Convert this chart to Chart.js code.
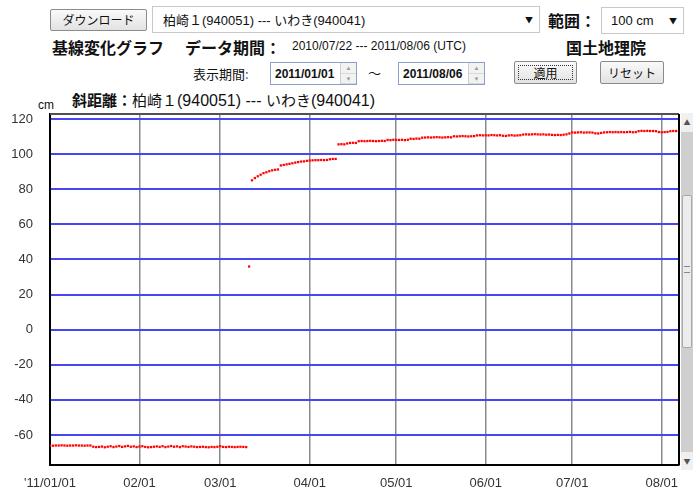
<!DOCTYPE html>
<html>
<head>
<meta charset="utf-8">
<script src="https://cdn.jsdelivr.net/npm/chart.js@4.4.0/dist/chart.umd.min.js"></script>
<style>
  body { margin: 0; width: 693px; height: 488px; overflow: hidden; background: #fff; position: relative;
         font-family: "Noto Sans CJK JP", "Liberation Sans", sans-serif; color: #111; }
  .abs { position: absolute; white-space: nowrap; }
  .btn { position: absolute; box-sizing: border-box; border: 1px solid #8c8c8c; border-radius: 2px;
         background: linear-gradient(#fafafa, #e2e2e2); font-size: 12px; text-align: center; color: #111; }
  .sel { position: absolute; box-sizing: border-box; border: 1px solid #c8c8c8; background: #fff; font-size: 13px; }
  .num { font-family: "Liberation Sans", sans-serif; }
  .inp { position: absolute; box-sizing: border-box; border: 1px solid #8aa2c8; background: #fff;
         font: bold 12px "Liberation Sans", sans-serif; }
  .spin { position: absolute; right: 0; top: 0; width: 15px; height: 100%; border-left: 1px solid #d0d0d0; background: #f2f2f2; }
  .spin div { height: 50%; box-sizing: border-box; border-bottom: 1px solid #d8d8d8; font-size: 6px; line-height: 10px; text-align: center; color: #999; }
  #wrap { position: absolute; left: 0; top: 100px; width: 693px; height: 388px; }
  #sb { position: absolute; left: 681px; top: 113px; width: 12px; height: 357px; background: #cfcfcf; }
</style>
</head>
<body>

<!-- 上部の操作パネル -->
<div class="btn" style="left:50px;top:9px;width:97px;height:22px;line-height:20px;">ダウンロード</div>
<div class="sel" style="left:152px;top:6px;width:388px;height:27px;">
  <span class="abs" style="left:10px;top:3px;">柏崎１<span class="num">(940051) --- </span>いわき<span class="num">(940041)</span></span>
  <span class="abs" style="right:6px;top:7px;font-size:8px;">▼</span>
</div>
<div class="abs" style="left:548px;top:8px;font-size:16px;font-weight:bold;">範囲：</div>
<div class="sel" style="left:601px;top:7px;width:83px;height:27px;">
  <span class="abs num" style="left:9px;top:5px;">100 cm</span>
  <span class="abs" style="right:6px;top:7px;font-size:8px;">▼</span>
</div>

<div class="abs" style="left:52px;top:35px;font-size:16px;font-weight:bold;">基線変化グラフ</div>
<div class="abs" style="left:185px;top:35px;font-size:16px;font-weight:bold;">データ期間：</div>
<div class="abs num" style="left:292px;top:39px;font-size:12px;">2010/07/22 --- 2011/08/06 (UTC)</div>
<div class="abs" style="left:566px;top:35px;font-size:16px;font-weight:bold;">国土地理院</div>

<div class="abs" style="left:193px;top:64px;font-size:13px;">表示期間<span style="color:#557">:</span></div>
<div class="inp" style="left:270px;top:62px;width:87px;height:23px;">
  <span class="abs" style="left:4px;top:4px;">2011/01/01</span>
  <div class="spin"><div>▲</div><div>▼</div></div>
</div>
<div class="abs" style="left:368px;top:63px;font-size:13px;">～</div>
<div class="inp" style="left:398px;top:62px;width:87px;height:23px;">
  <span class="abs" style="left:4px;top:4px;">2011/08/06</span>
  <div class="spin"><div>▲</div><div>▼</div></div>
</div>
<div class="btn" style="left:514px;top:61px;width:63px;height:23px;line-height:21px;">
  <div style="position:absolute;left:3px;top:3px;right:3px;bottom:3px;border:1px dotted #333;"></div>適用
</div>
<div class="btn" style="left:600px;top:61px;width:64px;height:23px;line-height:21px;">リセット</div>

<!-- グラフタイトル -->
<div class="abs" style="left:72px;top:89px;font-size:15px;"><b>斜距離：</b>柏崎１<span class="num" style="font-size:16px;">(940051) --- </span>いわき<span class="num" style="font-size:16px;">(940041)</span></div>
<div class="abs num" style="left:38px;top:98px;font-size:12px;">cm</div>

<div id="wrap"><canvas id="baseline-chart"></canvas></div>

<!-- 右端のスクロールバー -->
<div id="sb">
  <div style="position:absolute;left:0;top:0;width:12px;height:19px;background:#f0f0f0;font-size:7px;text-align:center;line-height:19px;color:#555;">▲</div>
  <div style="position:absolute;left:1px;top:82px;width:10px;height:153px;background:#ececec;border:1px solid #aaa;border-radius:2px;box-sizing:border-box;"></div>
  <div style="position:absolute;left:3px;top:153px;width:6px;height:7px;border-top:1px solid #888;border-bottom:1px solid #888;box-sizing:border-box;"></div>
  <div style="position:absolute;left:0;bottom:0;width:12px;height:18px;background:#f0f0f0;font-size:7px;text-align:center;line-height:18px;color:#555;">▼</div>
</div>

<script>
// 表示開始日 (x = 開始日からの経過日数)
const startDate = "2011-01-01";
const endDate = "2011-08-07";

// 月初めの目盛り
const xTickDates = ["2011-01-01", "2011-02-01", "2011-03-01", "2011-04-01", "2011-05-01", "2011-06-01", "2011-07-01", "2011-08-01"];
const xTickLabels = ["'11/01/01", "02/01", "03/01", "04/01", "05/01", "06/01", "07/01", "08/01"];

// 縦軸
const yTicks = [-60, -40, -20, 0, 20, 40, 60, 80, 100, 120];
const yMin = -77.1;
const yMax = 122.9;

// 斜距離の日毎の値 (cm)  01/01 〜 08/06
const distJan = [
  -66.0, -66.1, -66.0, -66.0, -65.9, -66.0, -66.1, -66.0, -66.0, -65.9, -66.0, -66.0, -66.1, -66.0, -66.0,
  -66.7, -66.9, -66.8, -66.6, -67.0, -66.7, -66.4, -66.9, -66.6, -66.3, -66.8, -66.5, -66.2, -66.7, -66.5, -66.9
];
const distFeb = [
  -66.6, -66.4, -66.8, -67.0, -66.9, -66.7, -66.5, -66.8, -66.4, -66.9, -66.6, -66.3, -66.7, -66.5,
  -66.9, -66.4, -66.6, -66.8, -66.5, -66.7, -66.9, -66.8, -66.7, -66.9, -67.0, -66.8, -66.9, -66.7
];
const distMar = [
  -66.4, -66.8, -66.9, -66.7, -66.8, -66.9, -66.8, -66.7, -66.8, -66.9,
  36.0,
  85.1, 86.4, 87.4, 88.3, 89.2, 89.7, 90.3, 90.8, 91.1, 91.3,
  93.6, 93.9, 94.2, 94.5, 94.8, 95.2, 95.5, 95.8, 95.9, 96.2
];
const distApr = [
  96.4, 96.5, 96.6, 96.6, 96.7, 96.6, 96.7, 97.1, 97.3, 97.3,
  105.6, 105.7, 105.6, 106.1, 106.4, 106.5, 106.4, 107.4, 107.5, 107.4,
  107.5, 107.6, 107.5, 107.4, 107.5, 107.6, 107.5, 108.1, 108.0, 108.2
];
const distMay = [
  108.1, 108.1, 108.2, 108.0, 108.2, 108.8, 108.7, 108.9, 108.8, 109.4,
  109.5, 109.6, 109.5, 109.6, 109.7, 109.6, 109.5, 109.6, 109.7, 109.6,
  110.2, 110.1, 110.2, 110.3, 110.2, 110.1, 110.2, 110.3, 110.7, 110.8, 110.7
];
const distJun = [
  110.8, 110.7, 110.9, 110.8, 110.7, 110.8, 110.5, 110.4, 110.7, 110.8,
  110.6, 110.7, 110.8, 111.2, 111.3, 111.2, 111.3, 111.4, 111.3, 111.2,
  111.3, 111.1, 111.2, 111.0, 110.9, 111.0, 110.9, 111.1, 111.3, 111.8
];
const distJul = [
  112.4, 112.3, 112.4, 112.5, 112.3, 112.4, 112.4, 112.3, 111.9, 111.8,
  112.1, 112.4, 112.5, 112.6, 112.5, 112.6, 112.5, 112.6, 112.5, 112.6,
  112.7, 112.5, 112.6, 113.1, 113.3, 113.2, 113.3, 113.2, 113.2, 113.1, 112.6
];
const distAug = [112.5, 112.6, 112.7, 113.1, 113.2, 113.2];

const dailyDist = [...distJan, ...distFeb, ...distMar, ...distApr, ...distMay, ...distJun, ...distJul, ...distAug];

function dayOffset(s) {
  return Math.round((Date.parse(s + "T00:00:00Z") - Date.parse(startDate + "T00:00:00Z")) / 86400000);
}

const points = dailyDist.map((v, i) => ({ x: i, y: v }));
const xTickValues = xTickDates.map(dayOffset);

// グラフ外枠 (上と右)
const framePlugin = {
  id: "frame",
  afterDraw(chart) {
    const { ctx, chartArea: a } = chart;
    ctx.save();
    ctx.lineWidth = 2;
    ctx.strokeStyle = "#505050";
    ctx.beginPath(); ctx.moveTo(a.left, a.top); ctx.lineTo(a.right, a.top); ctx.stroke();
    ctx.strokeStyle = "#000";
    ctx.beginPath(); ctx.moveTo(a.right, a.top); ctx.lineTo(a.right, a.bottom); ctx.stroke();
    ctx.restore();
  }
};

const canvas = document.getElementById("baseline-chart");
const chart = new Chart(canvas.getContext("2d"), {
  type: "scatter",
  data: {
    datasets: [{
      label: "斜距離",
      data: points,
      pointStyle: "rect",
      pointRadius: 1.6,
      pointBorderWidth: 0,
      backgroundColor: "#ff0000",
      borderColor: "#ff0000",
      showLine: false
    }]
  },
  options: {
    responsive: true,
    maintainAspectRatio: false,
    animation: false,
    layout: { padding: { top: 14, right: 14, left: 0, bottom: 0 } },
    plugins: { legend: { display: false }, tooltip: { enabled: false } },
    scales: {
      x: {
        type: "linear",
        min: 0,
        max: dayOffset(endDate),
        afterBuildTicks: (scale) => { scale.ticks = xTickValues.map(v => ({ value: v })); },
        afterFit: (scale) => { scale.height = 23; scale.paddingLeft = 0; scale.paddingRight = 0; },
        ticks: {
          autoSkip: false,
          maxRotation: 0,
          padding: 11,
          color: "#333",
          font: { family: "Liberation Sans", size: 13 },
          callback: (value, index) => xTickLabels[index]
        },
        grid: { color: "#8a8a8a", lineWidth: 1.5, drawTicks: false },
        border: { color: "#000", width: 2 }
      },
      y: {
        type: "linear",
        min: yMin,
        max: yMax,
        afterBuildTicks: (scale) => { scale.ticks = yTicks.map(v => ({ value: v })); },
        // ラベル余白で描画領域が縮まないようにする
        afterFit: (scale) => { scale.width = 50; scale.paddingTop = 0; scale.paddingBottom = 0; },
        ticks: {
          padding: 17,
          color: "#333",
          font: { family: "Liberation Sans", size: 13 }
        },
        grid: { color: "#4646f2", lineWidth: 2, drawTicks: false },
        border: { color: "#000", width: 2 }
      }
    }
  },
  plugins: [framePlugin]
});
console.log("points:", dailyDist.length);
</script>
</body>
</html>
